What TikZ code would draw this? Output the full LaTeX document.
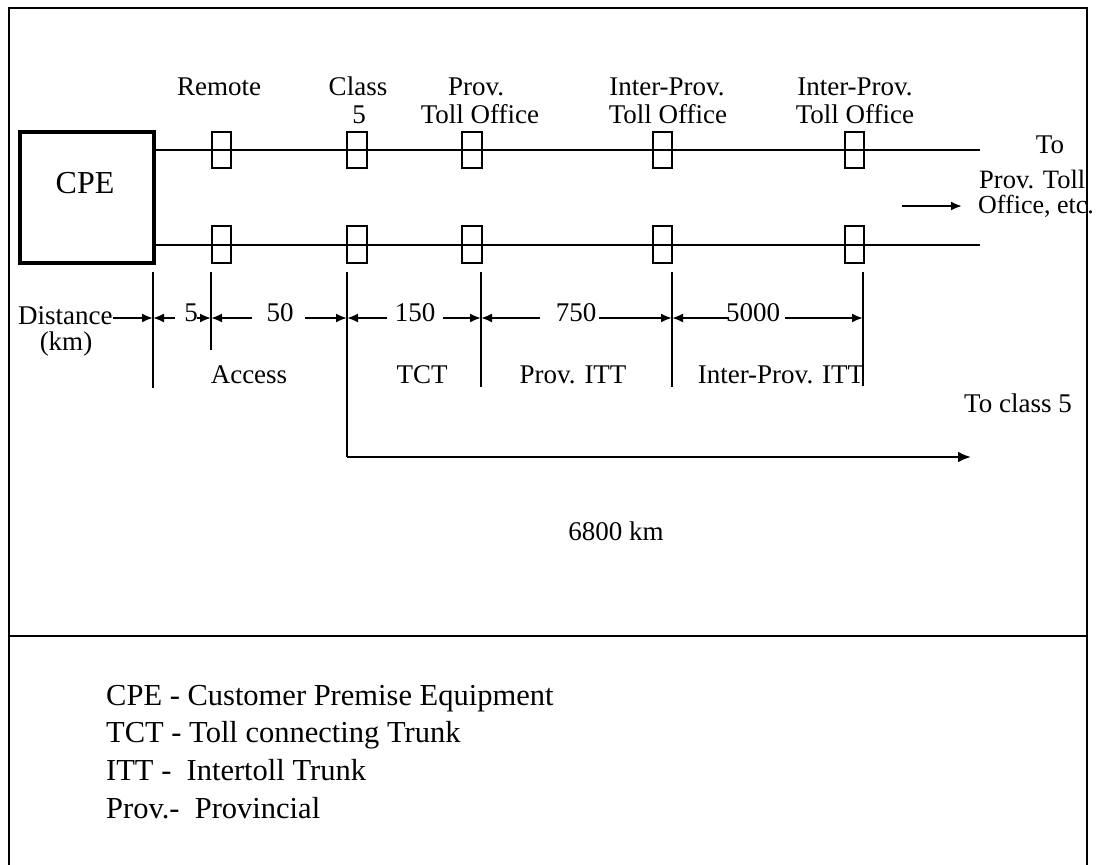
\documentclass[tikz,border=0pt]{standalone}
\usepackage{fontspec}
\setmainfont{Liberation Serif}
\usetikzlibrary{arrows.meta}
\begin{document}
\begin{tikzpicture}[x=1pt,y=-1pt,
  lbl/.style={anchor=base,inner sep=0pt,font=\fontsize{27}{30}\selectfont},
  leg/.style={anchor=base west,inner sep=0pt,font=\fontsize{30.5}{34}\selectfont},
  frame/.style={line width=2.2pt},
  cpebox/.style={draw,line width=3.8pt,minimum width=134.5pt,minimum height=131.5pt,inner sep=0pt},
  sbox/.style={draw,line width=2pt,minimum width=19.5pt,minimum height=36.5pt,inner sep=0pt},
  wire/.style={line width=2.6pt},
  tick/.style={line width=2.4pt},
  dim/.style={line width=2pt,-{Latex[length=11pt,width=9pt]}},
  longarr/.style={line width=2.4pt,-{Latex[length=13pt,width=11pt]}}]
\useasboundingbox (0,0) rectangle (1096,865);
% frame
\draw[frame] (9,866) -- (9,8) -- (1087,8) -- (1087,866);
\draw[frame] (9,636) -- (1087,636);
% CPE
\node[cpebox] (cpe) at (87,197.5) {};
\node[anchor=base,inner sep=0pt,font=\fontsize{32}{36}\selectfont] (cpetxt) at (85,193) {CPE};
% wire ends
\coordinate (topend) at (980,150);
\coordinate (botend) at (980,245);
\draw[wire] (cpe.east |- topend) -- (topend);
\draw[wire] (cpe.east |- botend) -- (botend);
% small boxes
\foreach \n/\x in {r/221.5,c/357,p/472,i/662.5,j/854.5}{
  \node[sbox] (\n1) at (\x,150) {};
  \node[sbox] (\n2) at (\x,244.5) {};
}
% top labels
\node[lbl] (lremote) at (219,95) {Remote};
\node[lbl] (lclass) at (358,95) {Class};
\node[lbl] (lfive) at (359,123) {5};
\node[lbl] (lprov) at (476,95) {Prov.};
\node[lbl] (lptoll) at (480,123) {Toll Office};
\node[lbl] (lip1) at (667,95) {Inter-Prov.};
\node[lbl] (liptoll1) at (668,123) {Toll Office};
\node[lbl] (lip2) at (855,95) {Inter-Prov.};
\node[lbl] (liptoll2) at (855,123) {Toll Office};
% right side
\node[lbl] (lto) at (1050,153) {To};
\node[lbl,anchor=base west,font=\fontsize{26.5}{30}\selectfont] (lprovtoll) at (979,188) {Prov. Toll};
\node[lbl,anchor=base west,font=\fontsize{26}{30}\selectfont] (loffice) at (978,213) {Office, etc.};
\coordinate (sa0) at (902,206);
\coordinate (sa1) at (962,206);
\draw[dim] (sa0) -- (sa1);
% ticks
\foreach \n/\x/\yb in {0/153/388,1/211/350,2/347/457,3/481/387,4/672/387,5/863/386}{
  \coordinate (tt\n) at (\x,272);
  \coordinate (tb\n) at (\x,\yb);
  \coordinate (t\n) at (\x,318);
  \draw[tick] (tt\n) -- (tb\n);
}
% dimension labels
\node[lbl,anchor=base west] (dist) at (18,324) {Distance};
\node[lbl] (km) at (66,350) {(km)};
\node[lbl] (d5) at (191,321) {5};
\node[lbl] (d50) at (280,321) {50};
\node[lbl] (d150) at (415,321) {150};
\node[lbl] (d750) at (576,321) {750};
\node[lbl] (d5000) at (753,321) {5000};
% dimension arrows
\coordinate (a0) at (113,318);
\coordinate (a1) at (175,318);
\coordinate (a2) at (197,318);
\coordinate (a3) at (252,318);
\coordinate (a4) at (305,318);
\coordinate (a5) at (387,318);
\coordinate (a6) at (443,318);
\coordinate (a7) at (540,318);
\coordinate (a8) at (599,318);
\coordinate (a9) at (729,318);
\coordinate (a10) at (785,318);
\draw[dim] (a0) -- (t0);
\draw[dim] (a1) -- (t0);
\draw[dim] (a2) -- (t1);
\draw[dim] (a3) -- (t1);
\draw[dim] (a4) -- (t2);
\draw[dim] (a5) -- (t2);
\draw[dim] (a6) -- (t3);
\draw[dim] (a7) -- (t3);
\draw[dim] (a8) -- (t4);
\draw[dim] (a9) -- (t4);
\draw[dim] (a10) -- (t5);
% segment names
\node[lbl] (access) at (249,383) {Access};
\node[lbl] (tct) at (422,383) {TCT};
\node[lbl] (pitt) at (573,383) {Prov. ITT};
\node[lbl] (ipitt) at (781,383) {Inter-Prov. ITT};
\node[lbl] (toc5) at (1018,412) {To class 5};
% 6800 km
\coordinate (lend) at (971,457);
\draw[longarr] (tb2) -- (lend);
\node[lbl] (km6800) at (616,540) {6800 km};
% legend
\node[leg] (g1) at (106,705) {CPE - Customer Premise Equipment};
\node[leg] (g2) at (106,742) {TCT - Toll connecting Trunk};
\node[leg] (g3) at (106,780) {ITT -\ \ Intertoll Trunk};
\node[leg] (g4) at (106,818) {Prov.-\ \ Provincial};
\end{tikzpicture}
\end{document}
